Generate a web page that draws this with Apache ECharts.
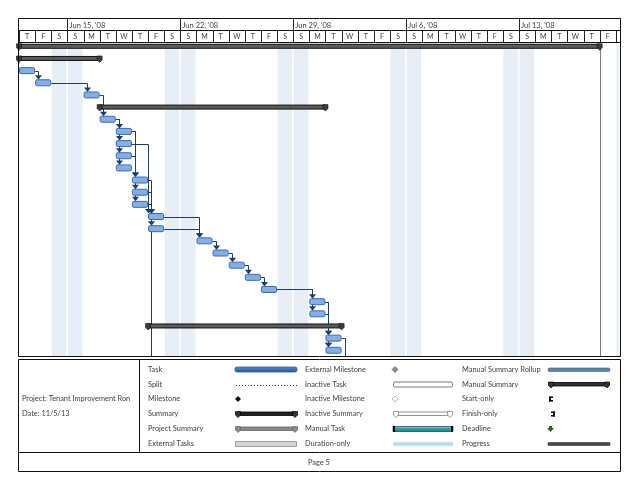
<!DOCTYPE html>
<html><head><meta charset="utf-8">
<script src="https://cdn.jsdelivr.net/npm/echarts@6/dist/echarts.min.js"></script>
<style>html,body{margin:0;padding:0;background:#fff}#c{width:638px;height:492px}</style>
</head><body><div id="c"></div>
<script>
// ---------- data ----------
const dayLetters = ['T','F','S','S','M','T','W','T','F','S','S','M','T','W','T','F','S','S','M','T','W','T','F','S','S','M','T','W','T','F','S','S','M','T','W','T','F'];
const weekStarts = [3,10,17,24,31];
const weekLabels = ["Jun 15, '08","Jun 22, '08","Jun 29, '08","Jul 6, '08","Jul 13, '08"];
const weekendDays = [2,3,9,10,16,17,23,24,30,31,37];
// tasks: row index, start day, end day
const taskRows  = [2,3,4,6,7,8,9,10,11,12,13,14,15,16,17,18,19,20,21,22,24,25];
const taskStart = [0,1,4,5,6,6,6,6,7,7,7,8,8,11,12,13,14,15,18,18,19,19];
const taskEnd   = [1,2,5,6,7,7,7,7,8,8,8,9,9,12,13,14,15,16,19,19,20,20];
// summaries
const sumRows  = [0,1,5,23];
const sumStart = [0,0,5,8];
const sumEnd   = [36,5,19,20];
// links: predecessor row -> successor row (27 = continues to next page)
const linkFrom = [2,3,4,6,6,6,6,7,7,7,9,8,11,12,13,13,13,14,15,16,17,18,19,20,20,21,21,22,22,24];
const linkTo   = [3,4,6,7,8,9,10,11,12,13,11,14,14,14,14,15,27,16,16,17,18,19,20,21,22,24,25,24,25,27];
const linkOff  = [3,3,3,3,3,3,3,3,3,3,3,0,3,3,3,3,3,3,3,3,3,3,3,3,3,3,3,3,3,3];
// legend
const legendCol1 = ['Task','Split','Milestone','Summary','Project Summary','External Tasks'];
const legendCol2 = ['External Milestone','Inactive Task','Inactive Milestone','Inactive Summary','Manual Task','Duration-only'];
const legendCol3 = ['Manual Summary Rollup','Manual Summary','Start-only','Finish-only','Deadline','Progress'];
const projectInfo = ['Project: Tenant Improvement Ron','Date: 11/5/13'];
const pageLabel = 'Page 5';
const projectFinish = 36;

// ---------- chart ----------
const FONT = 'Lato, "Open Sans", sans-serif';
const TXT = '#404040';
const NAVY = '#1f3d6b';
const XMAX = 37.26;
const YMIN = -0.354, YMAX = 25.47;

const chart = echarts.init(document.getElementById('c'), null, {renderer:'canvas'});

function summaryShape(x1, x2, y, fill, stroke) {
  return [
    {type:'rect', shape:{x:x1, y:y-2, width:x2-x1, height:4}, style:{fill:fill, stroke:stroke, lineWidth:1}},
    {type:'polygon', shape:{points:[[x1-2.5,y-2.5],[x1+2.5,y-2.5],[x1+2.5,y+1.5],[x1,y+4],[x1-2.5,y+1.5]]}, style:{fill:'#3c3c3c', stroke:stroke, lineWidth:0.6}},
    {type:'polygon', shape:{points:[[x2-2.5,y-2.5],[x2+2.5,y-2.5],[x2+2.5,y+1.5],[x2,y+4],[x2-2.5,y+1.5]]}, style:{fill:'#3c3c3c', stroke:stroke, lineWidth:0.6}}
  ];
}

const option = {
  animation: false,
  backgroundColor: '#fff',
  grid: [
    {left:19, top:42, width:601, height:314},
    {left:19, top:19, width:601, height:23}
  ],
  xAxis: [
    {type:'value', gridIndex:0, min:0, max:XMAX, show:false},
    {type:'value', gridIndex:1, min:0, max:XMAX, show:false}
  ],
  yAxis: [
    {type:'value', gridIndex:0, min:YMIN, max:YMAX, inverse:true, show:false},
    {type:'value', gridIndex:1, min:0, max:2, inverse:true, show:false}
  ],
  series: [
    // weekend shading
    {type:'custom', xAxisIndex:0, yAxisIndex:0, z:1, silent:true,
     data: weekendDays.map(d => [d]),
     renderItem(params, api) {
       const d = api.value(0);
       const a = api.coord([d, YMIN]);
       const b = api.coord([Math.min(d+1, XMAX), YMAX]);
       return {type:'rect', shape:{x:a[0]+0.5, y:a[1], width:Math.max(0,b[0]-a[0]-1.5), height:b[1]-a[1]}, style:{fill:'#e8edf6'}};
     }},
    // project finish line
    {type:'custom', xAxisIndex:0, yAxisIndex:0, z:2, silent:true,
     data: [[projectFinish]],
     renderItem(params, api) {
       const a = api.coord([api.value(0), 0]);
       const b = api.coord([api.value(0), YMAX]);
       return {type:'line', shape:{x1:Math.round(a[0])+0.5, y1:a[1], x2:Math.round(a[0])+0.5, y2:b[1]}, style:{stroke:'#7a7a7a', lineWidth:1}};
     }},
    // links
    {type:'custom', xAxisIndex:0, yAxisIndex:0, z:3, silent:true,
     data: linkFrom.map((f,i) => {
       const ti = taskRows.indexOf(f);
       const si = taskRows.indexOf(linkTo[i]);
       const succStart = si >= 0 ? taskStart[si] : taskEnd[ti];
       return [taskEnd[ti], f, succStart, linkTo[i], linkOff[i]];
     }),
     renderItem(params, api) {
       const pe = api.coord([api.value(0), api.value(1)]);
       const toRow = api.value(3);
       const off = api.value(4);
       const ss = api.coord([api.value(2), Math.min(toRow, YMAX)]);
       const xa = Math.round(Math.max(ss[0], pe[0]) + off) + 0.5;
       const y1 = Math.round(pe[1]) + 0.5;
       const children = [];
       if (toRow > YMAX) {
         children.push({type:'polyline', shape:{points:[[pe[0],y1],[xa,y1],[xa,ss[1]]]}, style:{stroke:NAVY, lineWidth:1, fill:null}});
       } else {
         const yt = ss[1] - 3;
         children.push({type:'polyline', shape:{points:[[pe[0],y1],[xa,y1],[xa,yt-3]]}, style:{stroke:NAVY, lineWidth:1, fill:null}});
         children.push({type:'polygon', shape:{points:[[xa-3.5,yt-4.5],[xa+3.5,yt-4.5],[xa,yt]]}, style:{fill:NAVY}});
       }
       return {type:'group', children};
     }},
    // summaries
    {type:'custom', xAxisIndex:0, yAxisIndex:0, z:4, silent:true,
     data: sumRows.map((r,i) => [sumStart[i], sumEnd[i], r]),
     renderItem(params, api) {
       const a = api.coord([api.value(0), api.value(2)]);
       const b = api.coord([api.value(1), api.value(2)]);
       return {type:'group', children: summaryShape(a[0], b[0], a[1], '#5c5c5c', '#111')};
     }},
    // tasks
    {type:'custom', xAxisIndex:0, yAxisIndex:0, z:5, silent:true,
     data: taskRows.map((r,i) => [taskStart[i], taskEnd[i], r]),
     renderItem(params, api) {
       const a = api.coord([api.value(0), api.value(2)]);
       const b = api.coord([api.value(1), api.value(2)]);
       return {type:'rect', shape:{x:a[0]+0.5, y:a[1]-3, width:b[0]-a[0]-1, height:6, r:1.5},
               style:{fill:'#86aee3', stroke:'#3a6cb0', lineWidth:1}};
     }},
    // header: day cells
    {type:'custom', xAxisIndex:1, yAxisIndex:1, z:6, silent:true,
     data: dayLetters.map((l,i) => [i, l]).concat([[37, '']]),
     renderItem(params, api) {
       const d = api.value(0);
       const a = api.coord([d, 1]);
       const b = api.coord([Math.min(d+1, XMAX), 2]);
       const x = Math.round(a[0]) + 0.5;
       return {type:'group', children:[
         {type:'line', shape:{x1:x, y1:a[1], x2:x, y2:b[1]}, style:{stroke:'#222', lineWidth:1}},
         {type:'text', style:{text:dayLetters[d] || '', x:(a[0]+b[0])/2, y:(a[1]+b[1])/2+0.5, align:'center', verticalAlign:'middle', font:'7px '+FONT, fill:TXT}}
       ]};
     }},
    // header: week cells
    {type:'custom', xAxisIndex:1, yAxisIndex:1, z:6, silent:true,
     data: weekStarts.map((w,i) => [w, i]),
     renderItem(params, api) {
       const d = api.value(0);
       const a = api.coord([d, 0]);
       const b = api.coord([d, 1]);
       const x = Math.round(a[0]) + 0.5;
       return {type:'group', children:[
         {type:'line', shape:{x1:x, y1:a[1], x2:x, y2:b[1]}, style:{stroke:'#222', lineWidth:1}},
         {type:'text', style:{text:weekLabels[api.value(1)], x:a[0]+2, y:(a[1]+b[1])/2+0.5, align:'left', verticalAlign:'middle', font:'7.5px '+FONT, fill:TXT}}
       ]};
     }}
  ],
  graphic: []
};

// frame and legend graphics
const G = [];
const L = (x1,y1,x2,y2,c,w) => G.push({type:'line', silent:true, z:10, shape:{x1,y1,x2,y2}, style:{stroke:c||'#111', lineWidth:w||1}});
L(18.5,18.5,620.5,18.5); L(18.5,30.5,620.5,30.5); L(18.5,42.5,620.5,42.5);
L(18.5,18.5,18.5,356.5); L(620.5,18.5,620.5,356.5);
L(18.5,356.5,620.5,356.5);
L(18.5,359.5,620.5,359.5); L(18.5,359.5,18.5,471.5); L(620.5,359.5,620.5,471.5);
L(18.5,452.5,620.5,452.5); L(18.5,471.5,620.5,471.5); L(139.5,359.5,139.5,452.5);

const rowY = [369.5,384.5,399,414,429,444];
const T = (txt,x,y) => G.push({type:'text', silent:true, z:11, style:{text:txt, x, y, verticalAlign:'middle', font:'7.4px '+FONT, fill:TXT}});
legendCol1.forEach((t,i)=>T(t,148,rowY[i]));
legendCol2.forEach((t,i)=>T(t,305,rowY[i]));
legendCol3.forEach((t,i)=>T(t,462,rowY[i]));
T(projectInfo[0],22,399); T(projectInfo[1],22,413.5);
T(pageLabel,308,463);

const R = (x,y,w,h,fill,stroke,r,lw) => G.push({type:'rect', silent:true, z:11, shape:{x,y,width:w,height:h,r:r||0}, style:{fill, stroke:stroke||null, lineWidth:lw||1}});
const P = (pts,fill,stroke) => G.push({type:'polygon', silent:true, z:12, shape:{points:pts}, style:{fill, stroke:stroke||null, lineWidth:0.7}});
G.push({type:'rect', silent:true, z:11, shape:{x:235,y:rowY[0]-2.5,width:62,height:5,r:2}, style:{fill:new echarts.graphic.LinearGradient(0,0,0,1,[{offset:0,color:'#6b98d3'},{offset:0.5,color:'#3c6db3'},{offset:1,color:'#2d5a9a'}]), stroke:'#2b5593', lineWidth:0.8}});
G.push({type:'line', silent:true, z:11, shape:{x1:236,y1:rowY[1]+1,x2:297,y2:rowY[1]+1}, style:{stroke:'#1f3d6b', lineWidth:1, lineDash:[1,2]}});
P([[238,rowY[2]-3],[241,rowY[2]],[238,rowY[2]+3],[235,rowY[2]]],'#111');
function legendSummary(x1,x2,y,fill,stroke,cap){
  R(x1,y-2,x2-x1,3.5,fill,stroke,0,0.8);
  P([[x1-2.5,y-2.5],[x1+2.5,y-2.5],[x1+2.5,y+1],[x1,y+3.5],[x1-2.5,y+1]],cap,stroke);
  P([[x2-2.5,y-2.5],[x2+2.5,y-2.5],[x2+2.5,y+1],[x2,y+3.5],[x2-2.5,y+1]],cap,stroke);
}
legendSummary(238,295,rowY[3],'#222','#000','#333');
legendSummary(238,295,rowY[4],'#8a8a8a','#666','#8a8a8a');
R(235.5,rowY[5]-2.5,61,5,'#d4d4d4','#8a8a8a',0,0.8);
P([[395,rowY[0]-3],[398,rowY[0]],[395,rowY[0]+3],[392,rowY[0]]],'#8c8c8c','#666');
R(393.5,rowY[1]-2.5,59,5,'#fff','#555',1.5,0.8);
P([[395,rowY[2]-3],[398,rowY[2]],[395,rowY[2]+3],[392,rowY[2]]],'#fff','#999');
legendSummary(396,450,rowY[3],'#fff','#777','#fff');
G.push({type:'rect', silent:true, z:11, shape:{x:393,y:rowY[4]-2.5,width:60,height:5}, style:{fill:new echarts.graphic.LinearGradient(0,0,0,1,[{offset:0,color:'#7fd0d6'},{offset:0.5,color:'#2a9aa5'},{offset:1,color:'#1d7d88'}]), stroke:'#1a1a1a', lineWidth:0.6}});
R(393,rowY[4]-3,2,6,'#000'); R(451,rowY[4]-3,2,6,'#000');
G.push({type:'rect', silent:true, z:11, shape:{x:393,y:rowY[5]-2.5,width:60,height:5}, style:{fill:new echarts.graphic.LinearGradient(0,0,0,1,[{offset:0,color:'#e4f2f7'},{offset:0.5,color:'#a9d3e3'},{offset:1,color:'#e4f2f7'}])}});
R(548,rowY[0]-1.5,62,3.5,'#5f7fa8','#3e5d85',1.5,0.6);
legendSummary(551,607,rowY[1],'#333','#000','#333');
R(549,rowY[2]-2.5,2,5,'#000'); R(549,rowY[2]-2.5,4,1.5,'#000'); R(549,rowY[2]+1,4,1.5,'#000');
R(553,rowY[3]-2.5,2,5,'#000'); R(551,rowY[3]-2.5,4,1.5,'#000'); R(551,rowY[3]+1,4,1.5,'#000');
P([[549,rowY[4]-3],[552,rowY[4]-3],[552,rowY[4]-1],[554,rowY[4]-1],[550.5,rowY[4]+3],[547,rowY[4]-1],[549,rowY[4]-1]],'#1d6b22');
R(548,rowY[5]-1.5,62,3,'#4a4a4a','#333',0.5,0.6);
option.graphic = G;

chart.setOption(option);
</script>
</body></html>
